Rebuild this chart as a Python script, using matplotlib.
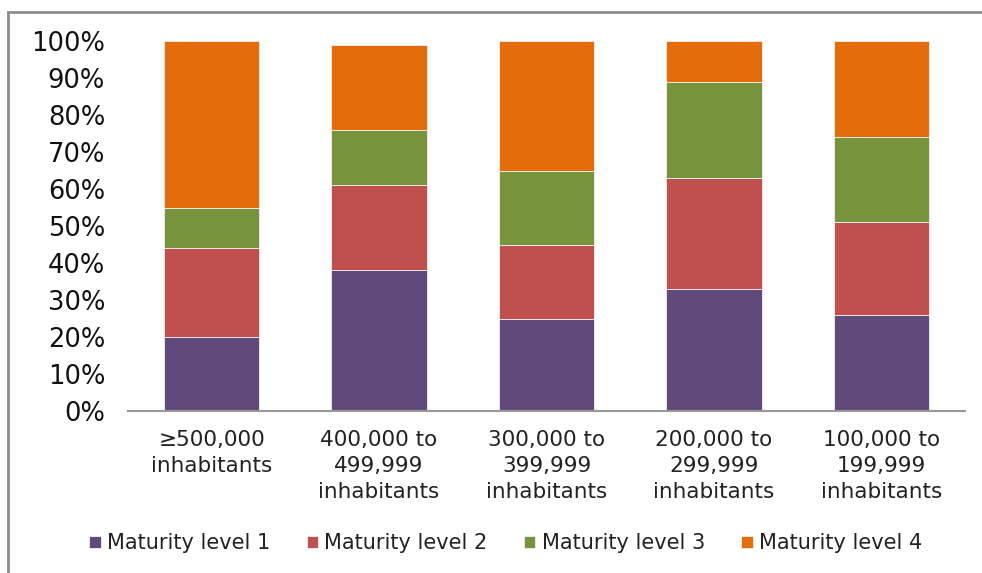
import matplotlib
matplotlib.use('Agg')
import matplotlib.pyplot as plt
from matplotlib.patches import Rectangle
import numpy as np

# 数据
categories = ['\u2265500,000\ninhabitants', '400,000 to\n499,999\ninhabitants',
              '300,000 to\n399,999\ninhabitants', '200,000 to\n299,999\ninhabitants',
              '100,000 to\n199,999\ninhabitants']
level1 = [20, 38, 25, 33, 26]
level2 = [24, 23, 20, 30, 25]
level3 = [11, 15, 20, 26, 23]
level4 = [45, 23, 35, 11, 26]
series_names = ['Maturity level 1', 'Maturity level 2', 'Maturity level 3', 'Maturity level 4']
colors = ['#604A7B', '#C0504D', '#77933C', '#E46C0A']

plt.rcParams['font.family'] = ['DejaVu Sans']

fig = plt.figure(figsize=(9.82, 5.73), dpi=100)
ax = fig.add_axes([0.1303, 0.2827, 0.8524, 0.6457])

x = np.arange(len(categories))
bottom = np.zeros(len(categories))
for vals, name, c in zip([level1, level2, level3, level4], series_names, colors):
    ax.bar(x, vals, width=0.57, bottom=bottom, color=c, label=name,
           edgecolor='#f4f0f4', linewidth=0.6)
    bottom += np.array(vals)

ax.set_xlim(-0.5, len(categories) - 0.5)
ax.set_ylim(0, 100)
ax.set_yticks(np.arange(0, 101, 10))
ax.set_yticklabels([f'{v}%' for v in range(0, 101, 10)], fontsize=18.5, color='#111111')
ax.set_xticks(x)
ax.set_xticklabels(categories, fontsize=15.5, color='#222222', linespacing=1.37)
ax.tick_params(axis='both', length=0)
ax.tick_params(axis='y', pad=16.5)
ax.tick_params(axis='x', pad=14)

for s in ['top', 'right', 'left']:
    ax.spines[s].set_visible(False)
ax.spines['bottom'].set_color('#999999')
ax.spines['bottom'].set_linewidth(1.5)

fig.legend(loc='center', bbox_to_anchor=(0.515, 0.052), ncol=4, frameon=False,
           fontsize=15, handlelength=0.55, handleheight=0.55, handletextpad=0.3,
           columnspacing=1.75, labelcolor='#222222')

# 外框
fig.patches.append(Rectangle((8 / 982, -0.05), 1.1, 1.05 - 12 / 573,
                             transform=fig.transFigure, fill=False,
                             edgecolor='#8c8c8c', linewidth=2))

fig.savefig('out.png', dpi=100, facecolor='white')
